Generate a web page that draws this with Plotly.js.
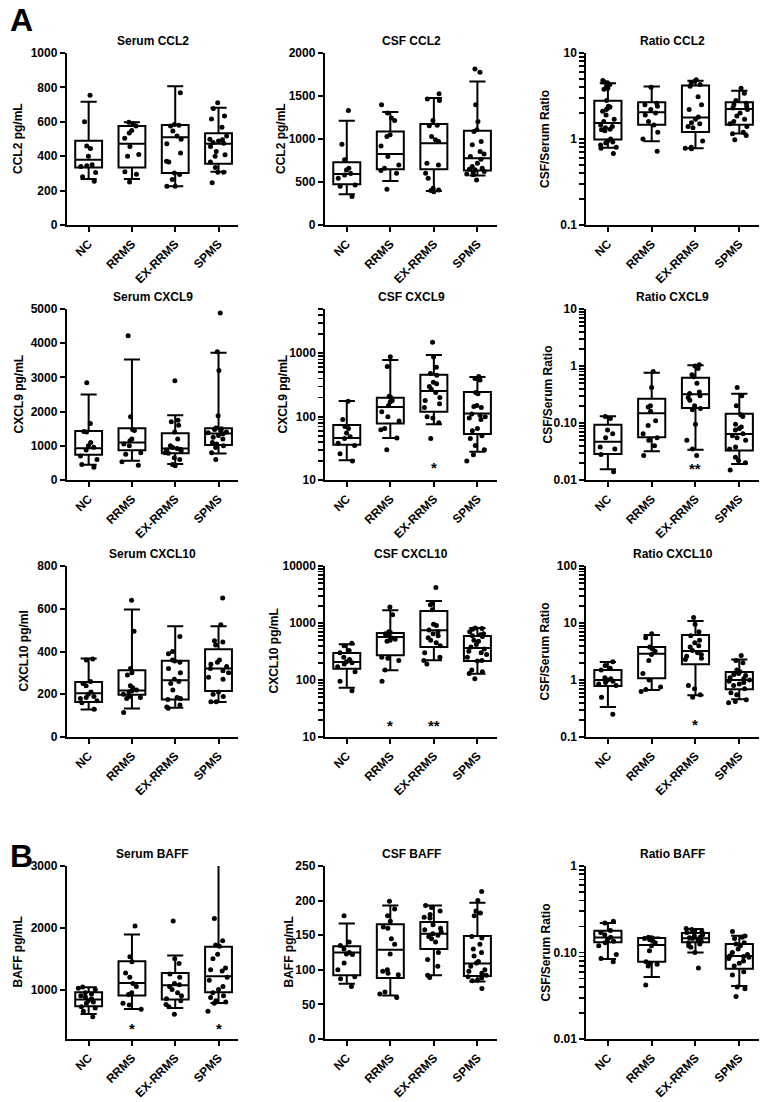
<!DOCTYPE html>
<html><head><meta charset="utf-8">
<script src="https://cdn.plot.ly/plotly-3.0.1.min.js"></script>
<style>html,body{margin:0;padding:0;background:#fff}#chart{width:768px;height:1102px}</style>
</head><body><div id="chart"></div>
<script>
const groups = ['NC','RRMS','EX-RRMS','SPMS'];

// Box statistics per group: [lower whisker, Q1, median, Q3, upper whisker]
const serumCCL2_box = [[268,335,380,490,717],[268,335,472,576,597],[225,302,510,582,807],[310,356,472,534,682]];
const serumCCL2_pts = [
  [755,600,460,445,400,350,345,340,305,280,255],
  [598,590,575,550,535,505,457,410,400,310,295,250],
  [769,585,580,575,547,518,499,472,418,370,366,302,293,264,225,225],
  [711,678,634,617,568,518,499,495,489,480,476,457,428,408,399,366,335,306,306,245]];

const csfCCL2_box = [[357,474,594,730,1212],[513,649,827,1087,1313],[396,649,951,1173,1476],[575,633,777,1095,1670]];
const csfCCL2_pts = [
  [1330,940,760,660,640,600,580,545,465,450,330],
  [1398,1301,1243,1215,1049,1029,920,796,699,660,633,602,416],
  [1526,1464,1449,1215,1161,1153,1029,990,971,718,699,602,544,427,408,400,388],
  [1814,1775,1398,1204,1107,1087,971,932,854,827,796,765,718,680,660,649,641,621,610,594,583,524]];

const ratioCCL2_box = [[0.79,0.99,1.53,2.79,4.45],[0.94,1.46,2.04,2.67,4.07],[0.78,1.21,1.78,4.18,4.75],[1.16,1.46,2.23,2.67,3.65]];
const ratioCCL2_pts = [
  [4.8,4.6,4.5,4.3,4.1,3.9,3.8,2.8,2.4,2.35,2.3,2.2,2.1,1.9,1.7,1.6,1.45,1.4,1.35,1.3,1.28,1.25,1.0,0.95,0.92,0.9,0.85,0.8,0.78,0.68],
  [4.0,2.6,2.5,2.4,2.2,2.0,1.9,1.6,1.45,1.2,1.0,0.72],
  [4.9,4.7,4.5,4.3,4.1,3.1,2.5,2.2,1.8,1.7,1.55,1.5,1.4,1.35,0.95,0.8,0.78,0.77],
  [3.9,3.4,2.8,2.6,2.5,2.4,2.3,2.2,2.0,1.85,1.7,1.6,1.5,1.4,1.2,1.15,1.1,0.98]];

const serumCXCL9_box = [[446,736,930,1434,2500],[562,872,1095,1512,3527],[465,785,920,1366,1890],[775,1027,1357,1512,3720]];
const serumCXCL9_pts = [
  [2840,1650,1420,1400,1100,1000,960,880,700,600,450,370],
  [4220,1850,1480,1450,1200,1150,1050,1000,800,750,530,430],
  [2900,1750,1700,1600,1400,1200,1000,950,920,900,880,850,800,780,650,600,450,420],
  [4880,3750,3200,1880,1520,1500,1480,1450,1400,1380,1350,1300,1250,1200,1100,1050,1000,950,800,600]];

const csfCXCL9_box = [[20.5,36,46,74,177],[46,78,142,199,787],[76,119,253,458,942],[28,53,112,244,423]];
const csfCXCL9_pts = [
  [175,90,70,65,55,48,45,38,35,26,20],
  [880,620,210,200,180,170,150,120,100,85,65,62,46,30],
  [1500,870,600,480,450,350,330,300,270,240,200,180,160,140,100,95,80,45],
  [430,400,380,240,230,150,145,140,110,105,100,95,90,65,60,50,45,35,30,25,20]];

const ratioCXCL9_box = [[0.0155,0.0287,0.047,0.093,0.132],[0.032,0.056,0.149,0.267,0.76],[0.034,0.183,0.318,0.62,1.03],[0.019,0.033,0.064,0.145,0.327]];
const ratioCXCL9_pts = [
  [0.13,0.12,0.075,0.065,0.055,0.038,0.035,0.028,0.014],
  [0.8,0.42,0.2,0.19,0.16,0.11,0.09,0.065,0.055,0.05,0.04,0.027],
  [1.05,1.0,0.9,0.7,0.65,0.5,0.35,0.33,0.3,0.28,0.25,0.2,0.18,0.17,0.095,0.05,0.035,0.027],
  [0.42,0.3,0.2,0.14,0.13,0.095,0.085,0.08,0.075,0.065,0.06,0.055,0.05,0.038,0.035,0.025,0.022,0.02,0.015]];

const serumCXCL10_box = [[129,164,205,257,367],[133,198,218,312,597],[137,176,265,357,518],[164,215,320,410,518]];
const serumCXCL10_pts = [
  [365,360,260,250,240,210,200,190,185,180,170,160,130],
  [640,495,320,300,290,240,230,220,215,210,200,190,185,180,115],
  [470,400,390,360,355,350,320,300,270,260,250,220,185,180,175,150,140,135],
  [650,525,450,445,430,360,350,340,330,320,310,300,280,270,210,200,190,165,165]];

const csfCXCL10_box = [[73,158,207,298,423],[148,271,567,667,1667],[221,379,743,1623,2432],[129,215,364,591,817]];
const csfCXCL10_pts = [
  [440,400,330,300,250,230,210,200,190,170,140,95,65],
  [1900,1400,700,680,650,600,550,520,500,480,250,240,220,150,95],
  [4200,2300,2100,1700,950,900,750,700,650,600,550,500,450,400,300,250,220,190],
  [820,800,780,700,650,620,600,580,500,480,420,380,350,320,300,280,250,220,215,150,140,130,105]];

const ratioCXCL10_box = [[0.336,0.785,1.0,1.5,2.07],[0.67,1.07,2.9,3.8,6.15],[0.54,1.88,3.23,6.15,10.8],[0.458,0.686,1.0,1.38,2.3]];
const ratioCXCL10_pts = [
  [2.1,1.8,1.6,1.5,1.1,1.05,1.0,0.95,0.9,0.85,0.8,0.5,0.25],
  [6.5,5.5,3.8,3.5,3.2,2.8,2.2,1.3,1.0,0.75,0.68,0.63],
  [12.5,9.5,7.0,6.0,5.0,4.5,4.0,3.8,3.3,3.0,2.8,2.6,2.4,2.3,0.8,0.7,0.55,0.5],
  [2.7,2.2,2.0,1.5,1.4,1.3,1.25,1.2,1.1,1.05,1.0,0.95,0.9,0.85,0.8,0.7,0.6,0.55,0.45,0.42,0.4]];

const serumBAFF_box = [[605,730,838,957,1038],[686,903,1108,1459,1892],[703,838,1070,1270,1551],[784,957,1216,1692,3200]];
const serumBAFF_pts = [
  [1040,1020,1000,950,930,900,880,850,820,800,780,720,700,650,560],
  [2030,1530,1450,1270,1200,1100,1050,950,920,780,750,680],
  [2110,1500,1420,1250,1200,1100,1080,1050,1000,950,900,850,820,760,720,600],
  [2150,1790,1720,1700,1570,1500,1350,1320,1300,1200,1150,1050,1000,950,900,870,820,800,780,650]];

const csfBAFF_box = [[80,92,125,134,167],[63,88,129,166,193],[92,130,152,169,193],[83,91,109,149,197]];
const csfBAFF_pts = [
  [178,140,135,130,125,123,122,110,100,90,87,76],
  [199,188,178,170,162,160,145,137,123,100,98,95,93,68,65,60],
  [193,190,185,180,176,175,165,160,158,155,152,150,148,145,140,125,115,105,92,89],
  [213,200,185,182,178,148,146,137,130,125,120,112,110,105,100,98,95,92,90,88,85,84,73]];

const ratioBAFF_box = [[0.084,0.131,0.149,0.179,0.219],[0.052,0.078,0.122,0.147,0.149],[0.1,0.131,0.146,0.168,0.187],[0.041,0.065,0.091,0.125,0.156]];
const ratioBAFF_pts = [
  [0.23,0.22,0.18,0.17,0.16,0.15,0.14,0.135,0.13,0.12,0.095,0.085,0.078],
  [0.15,0.148,0.145,0.14,0.138,0.13,0.12,0.105,0.078,0.075,0.073,0.07,0.042],
  [0.19,0.185,0.18,0.175,0.17,0.16,0.155,0.15,0.148,0.145,0.14,0.135,0.13,0.125,0.12,0.115,0.1,0.066],
  [0.175,0.155,0.15,0.145,0.13,0.125,0.12,0.11,0.1,0.095,0.092,0.09,0.088,0.085,0.08,0.075,0.07,0.06,0.055,0.04,0.038,0.031]];

// significance marks: [panel index, group index, y value, text]
const stars = [[4,2,16,'*'],[5,2,0.016,'**'],[7,1,16,'*'],[7,2,16,'**'],[8,2,0.165,'*'],[9,1,370,'*'],[9,3,370,'*']];

const panels = [
  {t:'Serum CCL2', yt:'CCL2 pg/mL', box:serumCCL2_box, pts:serumCCL2_pts, log:false, range:[0,1000], tv:[0,200,400,600,800,1000], tt:['0','200','400','600','800','1000'], ts:49},
  {t:'CSF CCL2', yt:'CCL2 pg/mL', box:csfCCL2_box, pts:csfCCL2_pts, log:false, range:[0,2000], tv:[0,500,1000,1500,2000], tt:['0','500','1000','1500','2000'], ts:44},
  {t:'Ratio CCL2', yt:'CSF/Serum Ratio', box:ratioCCL2_box, pts:ratioCCL2_pts, log:true, range:[0.1,10], tv:[0.1,1,10], tt:['0.1','1','10'], ts:41},
  {t:'Serum CXCL9', yt:'CXCL9 pg/mL', box:serumCXCL9_box, pts:serumCXCL9_pts, log:false, range:[0,5000], tv:[0,1000,2000,3000,4000,5000], tt:['0','1000','2000','3000','4000','5000'], ts:49},
  {t:'CSF CXCL9', yt:'CXCL9 pg/mL', box:csfCXCL9_box, pts:csfCXCL9_pts, log:true, range:[10,5000], tv:[10,100,1000], tt:['10','100','1000'], ts:43},
  {t:'Ratio CXCL9', yt:'CSF/Serum Ratio', box:ratioCXCL9_box, pts:ratioCXCL9_pts, log:true, range:[0.01,10], tv:[0.01,0.1,1,10], tt:['0.01','0.10','1','10'], ts:39},
  {t:'Serum CXCL10', yt:'CXCL10 pg/ml', box:serumCXCL10_box, pts:serumCXCL10_pts, log:false, range:[0,800], tv:[0,200,400,600,800], tt:['0','200','400','600','800'], ts:44},
  {t:'CSF CXCL10', yt:'CXCL10 pg/mL', box:csfCXCL10_box, pts:csfCXCL10_pts, log:true, range:[10,10000], tv:[10,100,1000,10000], tt:['10','100','1000','10000'], ts:52},
  {t:'Ratio CXCL10', yt:'CSF/Serum Ratio', box:ratioCXCL10_box, pts:ratioCXCL10_pts, log:true, range:[0.1,100], tv:[0.1,1,10,100], tt:['0.1','1','10','100'], ts:42},
  {t:'Serum BAFF', yt:'BAFF pg/mL', box:serumBAFF_box, pts:serumBAFF_pts, log:false, range:[200,3000], tv:[1000,2000,3000], tt:['1000','2000','3000'], ts:50},
  {t:'CSF BAFF', yt:'BAFF pg/mL', box:csfBAFF_box, pts:csfBAFF_pts, log:false, range:[0,250], tv:[0,50,100,150,200,250], tt:['0','50','100','150','200','250'], ts:37},
  {t:'Ratio BAFF', yt:'CSF/Serum Ratio', box:ratioBAFF_box, pts:ratioBAFF_pts, log:true, range:[0.01,1], tv:[0.01,0.1,1], tt:['0.01','0.10','1'], ts:41}
];

// layout geometry (pixels)
const W = 768, H = 1102;
const colsPx = [[67,238],[325,497],[586,759]];
const rowsPx = [[53,225],[309,480],[566,737],[866,1039]];

const FONT = 'Arial, Liberation Sans, Helvetica, sans-serif';
const data = [];
const layout = {
  width: W, height: H, margin:{l:0,r:0,t:0,b:0},
  paper_bgcolor:'#fff', plot_bgcolor:'rgba(0,0,0,0)',
  showlegend:false, boxmode:'overlay',
  font:{family:FONT, color:'#000'},
  annotations:[]
};

function minorVals(lo, hi){
  const out = [];
  for (let d = Math.round(Math.log10(lo)); d < Math.ceil(Math.log10(hi) - 1e-9); d++){
    for (let k = 2; k <= 9; k++){ const v = k*Math.pow(10,d); if (v > lo*1.0001 && v <= hi*1.0001) out.push(v); }
  }
  return out;
}

panels.forEach((p, i) => {
  const r = Math.floor(i/3), c = i%3;
  const n = i === 0 ? '' : String(i+1);
  const xa = 'x'+n, ya = 'y'+n;
  const xk = 'xaxis'+n, yk = 'yaxis'+n;
  const cx = colsPx[c], ry = rowsPx[r];
  layout[xk] = {
    domain:[cx[0]/W, cx[1]/W], anchor:ya, type:'category',
    categoryorder:'array', categoryarray:groups, range:[-0.5,3.45],
    showline:true, linewidth:2.2, linecolor:'#000', mirror:false,
    ticks:'outside', ticklen:5, tickwidth:2, tickcolor:'#000',
    tickangle:-45, tickfont:{family:FONT, size:12, weight:700, color:'#000'},
    showgrid:false, zeroline:false, fixedrange:true
  };
  const yax = {
    domain:[1-ry[1]/H, 1-ry[0]/H], anchor:xa,
    showline:true, linewidth:2.2, linecolor:'#000',
    ticks:'outside', ticklen:5, tickwidth:2, tickcolor:'#000',
    tickmode:'array', tickvals:p.tv, ticktext:p.tt,
    tickfont:{family:FONT, size:12, weight:700, color:'#000'},
    showgrid:false, zeroline:false, fixedrange:true
  };
  if (p.log){
    yax.type = 'log';
    yax.range = [Math.log10(p.range[0]), Math.log10(p.range[1])];
    // minor log ticks added as unlabeled tick positions
    const mv = minorVals(p.range[0], p.range[1]);
    yax.tickvals = p.tv.concat(mv);
    yax.ticktext = p.tt.concat(mv.map(() => ''));
    yax.ticklen = 4.5;
    yax.tickwidth = 1.8;
  } else {
    yax.type = 'linear';
    yax.range = p.range;
  }
  layout[yk] = yax;

  // box (precomputed stats)
  data.push({
    type:'box', xaxis:xa, yaxis:ya, x:groups,
    lowerfence:p.box.map(b=>b[0]), q1:p.box.map(b=>b[1]), median:p.box.map(b=>b[2]),
    q3:p.box.map(b=>b[3]), upperfence:p.box.map(b=>b[4]),
    width:0.62, whiskerwidth:0.6, boxpoints:false,
    line:{color:'#000', width:2}, fillcolor:'#fff', hoverinfo:'skip'
  });
  // individual points
  const xs = [], ys = [];
  p.pts.forEach((arr, g) => arr.forEach(v => { xs.push(groups[g]); ys.push(v); }));
  data.push({
    type:'box', xaxis:xa, yaxis:ya, x:xs, y:ys,
    boxpoints:'all', jitter:0.8, pointpos:0, width:0.62,
    marker:{color:'#000', size:5},
    line:{color:'rgba(0,0,0,0)', width:0}, fillcolor:'rgba(0,0,0,0)', hoverinfo:'skip'
  });

  // panel title
  layout.annotations.push({
    xref:xa+' domain', yref:ya+' domain', x:0.5, y:1, xanchor:'center', yanchor:'bottom', yshift:3,
    text:p.t, showarrow:false, font:{family:FONT, size:12, weight:700, color:'#000'}
  });
  // y-axis title
  layout.annotations.push({
    xref:xa+' domain', yref:ya+' domain', x:0, y:0.5, xanchor:'center', yanchor:'middle', xshift:-p.ts,
    textangle:-90, text:p.yt, showarrow:false, font:{family:FONT, size:12, weight:700, color:'#000'}
  });
});

stars.forEach(s => {
  const p = panels[s[0]];
  const n = s[0] === 0 ? '' : String(s[0]+1);
  layout.annotations.push({
    xref:'x'+n, yref:'y'+n, x:s[1], y: p.log ? Math.log10(s[2]) : s[2],
    text:s[3], showarrow:false, xanchor:'center', yanchor:'middle',
    font:{family:FONT, size:15, weight:700, color:'#000'}
  });
});

// panel letters
[['A',20/H],['B',856/H]].forEach(l => {
  layout.annotations.push({
    xref:'paper', yref:'paper', x:21/W, y:1-l[1], xanchor:'center', yanchor:'middle',
    text:l[0], showarrow:false, font:{family:FONT, size:32, weight:700, color:'#000'}
  });
});

Plotly.newPlot('chart', data, layout, {staticPlot:true, displayModeBar:false});
</script>
</body></html>
